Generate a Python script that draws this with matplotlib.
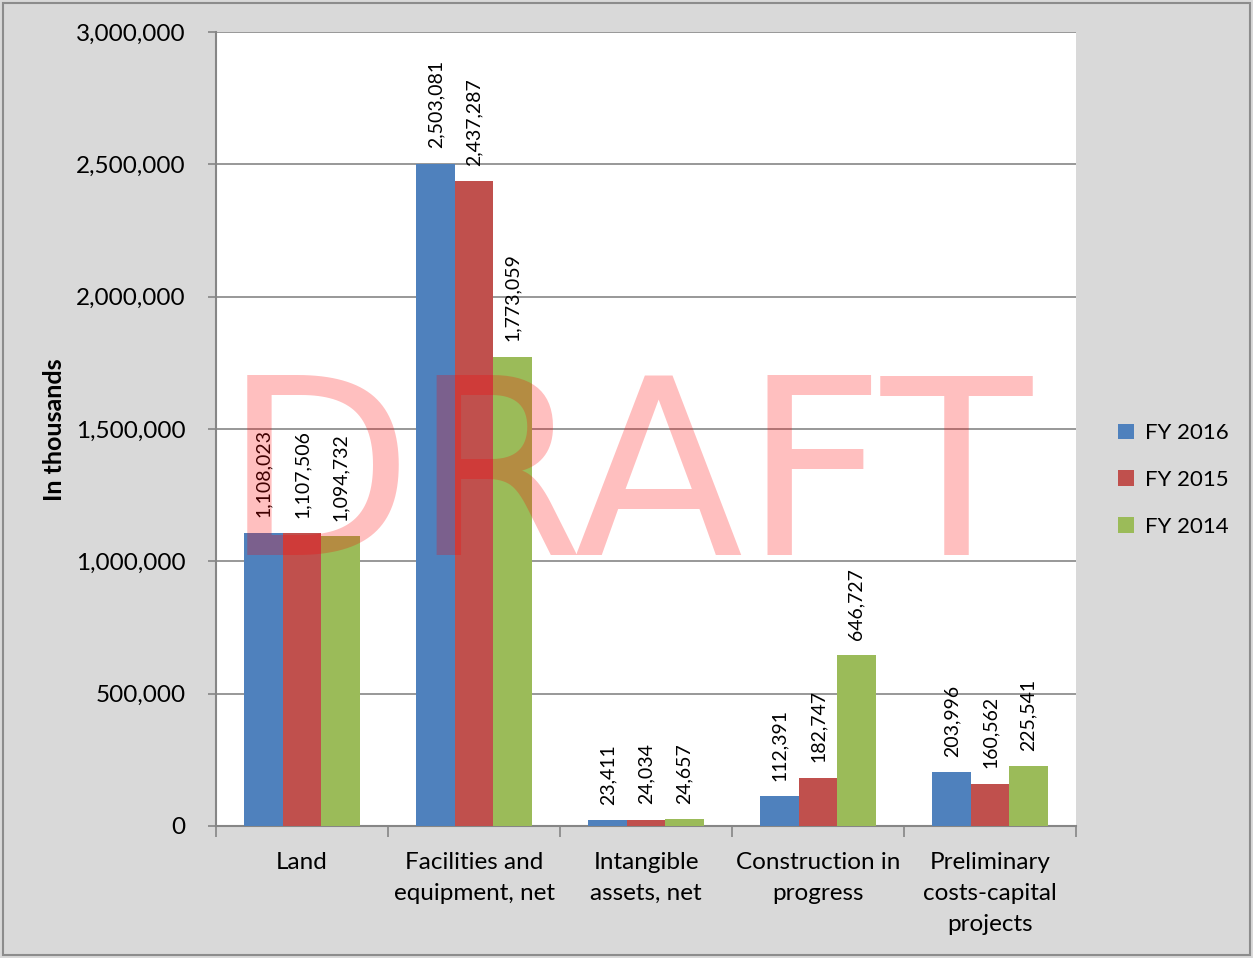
import matplotlib
matplotlib.use("Agg")
import matplotlib.pyplot as plt
import numpy as np
from matplotlib.patches import Rectangle

categories = ["Land", "Facilities and\nequipment, net", "Intangible\nassets, net",
              "Construction in\nprogress", "Preliminary\ncosts-capital\nprojects"]
series_names = ["FY 2016", "FY 2015", "FY 2014"]
fy2016 = [1108023, 2503081, 23411, 112391, 203996]
fy2015 = [1107506, 2437287, 24034, 182747, 160562]
fy2014 = [1094732, 1773059, 24657, 646727, 225541]
colors = ["#4F81BD", "#C0504D", "#9BBB59"]
yticks = [0, 500000, 1000000, 1500000, 2000000, 2500000, 3000000]

plt.rcParams['font.family'] = ['Lato', 'DejaVu Sans']

W, H = 1253, 958
fig = plt.figure(figsize=(W/100, H/100), dpi=100)
fig.patch.set_facecolor("#D9D9D9")
fig.add_artist(Rectangle((3/W, 3/H), (W-6)/W, (H-6)/H, transform=fig.transFigure,
                         fill=False, edgecolor="#8C8C8C", linewidth=1.5))

ax = fig.add_axes([216/W, 1-826/H, 860/W, 794/H])
ax.set_facecolor("white")

x = np.arange(len(categories))
bw = 0.223
for i, (vals, name, c) in enumerate(zip([fy2016, fy2015, fy2014], series_names, colors)):
    pos = x + (i-1)*bw
    ax.bar(pos, vals, width=bw, color=c, label=name, zorder=3)
    for p, v in zip(pos, vals):
        ax.annotate(f"{v:,}", (p, v), xytext=(0, 11), textcoords="offset points",
                    rotation=90, ha="center", va="bottom", fontsize=14, zorder=4)

ax.set_xlim(-0.5, len(categories)-0.5)
ax.set_ylim(0, 3000000)
ax.set_yticks(yticks)
ax.set_yticklabels([f"{v:,}" for v in yticks], fontsize=17.5)
ax.yaxis.grid(True, color="#868686", linewidth=1.2, zorder=0)
ax.set_axisbelow(True)

ax.set_xticks(np.arange(len(categories)+1)-0.5)
ax.set_xticklabels([])
ax.set_xticks(x, minor=True)
ax.set_xticklabels(categories, minor=True, fontsize=17.5, linespacing=1.58, va="top")
ax.tick_params(axis="x", which="minor", length=0, pad=19)
ax.tick_params(axis="x", which="major", length=8, width=1.2, color="#868686", direction="out")
ax.tick_params(axis="y", length=6, width=1.2, color="#868686", direction="out", pad=16)

for s in ["top", "right"]:
    ax.spines[s].set_visible(False)
for s in ["left", "bottom"]:
    ax.spines[s].set_color("#868686")
    ax.spines[s].set_linewidth(1.5)

fig.text(55/W, 1-430/H, "In thousands", rotation=90, ha="center", va="center",
         fontsize=18, fontweight="bold")

leg = fig.legend(loc="center left", bbox_to_anchor=(1098/W, 1-480/H), frameon=False,
                 fontsize=16, handlelength=0.7, handleheight=0.7, labelspacing=1.2,
                 handletextpad=0.5)

fig.text(628/W, 1-487/H, "DRAFT", ha="center", va="center", fontsize=178,
         color="red", alpha=0.25, family="DejaVu Sans", zorder=10)

fig.savefig("out.png", dpi=100, facecolor=fig.get_facecolor())
